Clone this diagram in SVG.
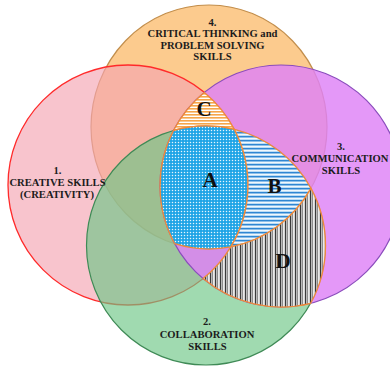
<svg xmlns="http://www.w3.org/2000/svg" width="390" height="367" viewBox="0 0 390 367">
<style>
.lbl{font-family:"Liberation Serif","Times New Roman",serif;font-weight:bold;font-size:10.6px;fill:#1c1c1c;text-anchor:middle}
.big{font-family:"Liberation Serif","Times New Roman",serif;font-weight:bold;font-size:21px;fill:#111;text-anchor:middle}
.hatch{stroke:#ef8a3a;stroke-width:1.3;stroke-linejoin:round}
</style>
<defs>
<pattern id="pC" patternUnits="userSpaceOnUse" width="6" height="3">
<rect width="6" height="3" fill="#ffffff"/>
<rect width="6" height="1.6" fill="#f6a64a"/>
</pattern>
<pattern id="pA" patternUnits="userSpaceOnUse" width="3" height="3">
<rect width="3" height="3" fill="#1fa4e6"/>
<circle cx="1.5" cy="1.5" r="0.75" fill="#e6f5fd"/>
</pattern>
<pattern id="pB" patternUnits="userSpaceOnUse" width="6" height="4">
<rect width="6" height="4" fill="#b4d8f4"/>
<rect y="0" width="6" height="1.3" fill="#2f86d2"/>
<rect y="2.2" width="6" height="0.9" fill="#ffffff"/>
</pattern>
<pattern id="pD" patternUnits="userSpaceOnUse" width="5" height="5">
<rect width="5" height="5" fill="#c8c8c8"/>
<rect x="0" width="0.9" height="5" fill="#2a2a2a"/>
<rect x="1.8" width="1" height="5" fill="#7d7d7d"/>
<rect x="3.4" width="0.8" height="5" fill="#ffffff"/>
</pattern>
</defs>

<g id="circle-critical">
<ellipse cx="209" cy="127" rx="118" ry="122" fill="#fccb8e" stroke="#c28e4c" stroke-width="1.2"/>
</g>
<g id="circle-creative">
<circle cx="128" cy="185" r="120" fill="#f5a5b2" fill-opacity="0.65" stroke="#ff2a2a" stroke-width="1.3"/>
</g>
<g id="circle-collaboration">
<circle cx="206" cy="245.5" r="119.5" fill="#6dc686" fill-opacity="0.65" stroke="#3f8a56" stroke-width="1.2"/>
</g>
<g id="circle-communication">
<circle cx="281" cy="186" r="121" fill="#de81f6" fill-opacity="0.82" stroke="#8a4cbc" stroke-width="1.2"/>
</g>

<g id="region-C">
<path class="hatch" fill="url(#pC)" d="M204.3,92.4 A121,121 0 0 0 173.5,130.5 A119.5,119.5 0 0 1 234.35,129.4 A120,120 0 0 0 204.3,92.4 Z"/>
<text class="big" x="204" y="115.5">C</text>
</g>
<g id="region-A">
<path class="hatch" fill="url(#pA)" d="M173.5,130.5 A119.5,119.5 0 0 1 234.35,129.4 A120,120 0 0 1 230.8,246.9 A118,122 0 0 1 174.7,243.7 A121,121 0 0 1 173.5,130.5 Z"/>
<text class="big" x="210" y="186.5">A</text>
</g>
<g id="region-B">
<path class="hatch" fill="url(#pB)" d="M234.35,129.4 A120,120 0 0 1 230.8,246.9 A118,122 0 0 0 311,188.4 A119.5,119.5 0 0 0 234.35,129.4 Z"/>
<text class="big" x="274.5" y="192.5">B</text>
</g>
<g id="region-D">
<path class="hatch" fill="url(#pD)" d="M230.8,246.9 A118,122 0 0 0 311,188.4 A119.5,119.5 0 0 1 310.6,303.3 A121,121 0 0 1 203.1,278.6 A120,120 0 0 0 230.8,246.9 Z"/>
<text class="big" x="283" y="267.5">D</text>
</g>

<g id="label-critical">
<text class="lbl" x="212.5" y="25.5">4.</text>
<text class="lbl" x="212.5" y="37">CRITICAL THINKING and</text>
<text class="lbl" x="212.5" y="48.5">PROBLEM SOLVING</text>
<text class="lbl" x="212.5" y="60">SKILLS</text>
</g>
<g id="label-creative">
<text class="lbl" x="57.5" y="173.5">1.</text>
<text class="lbl" x="57.5" y="185.5">CREATIVE SKILLS</text>
<text class="lbl" x="57" y="198">(CREATIVITY)</text>
</g>
<g id="label-communication">
<text class="lbl" x="341" y="150">3.</text>
<text class="lbl" x="340" y="162">COMMUNICATION</text>
<text class="lbl" x="341" y="174">SKILLS</text>
</g>
<g id="label-collaboration">
<text class="lbl" x="207" y="325">2.</text>
<text class="lbl" x="207" y="338">COLLABORATION</text>
<text class="lbl" x="207.5" y="350">SKILLS</text>
</g>
<g id="connectors"></g>
</svg>
